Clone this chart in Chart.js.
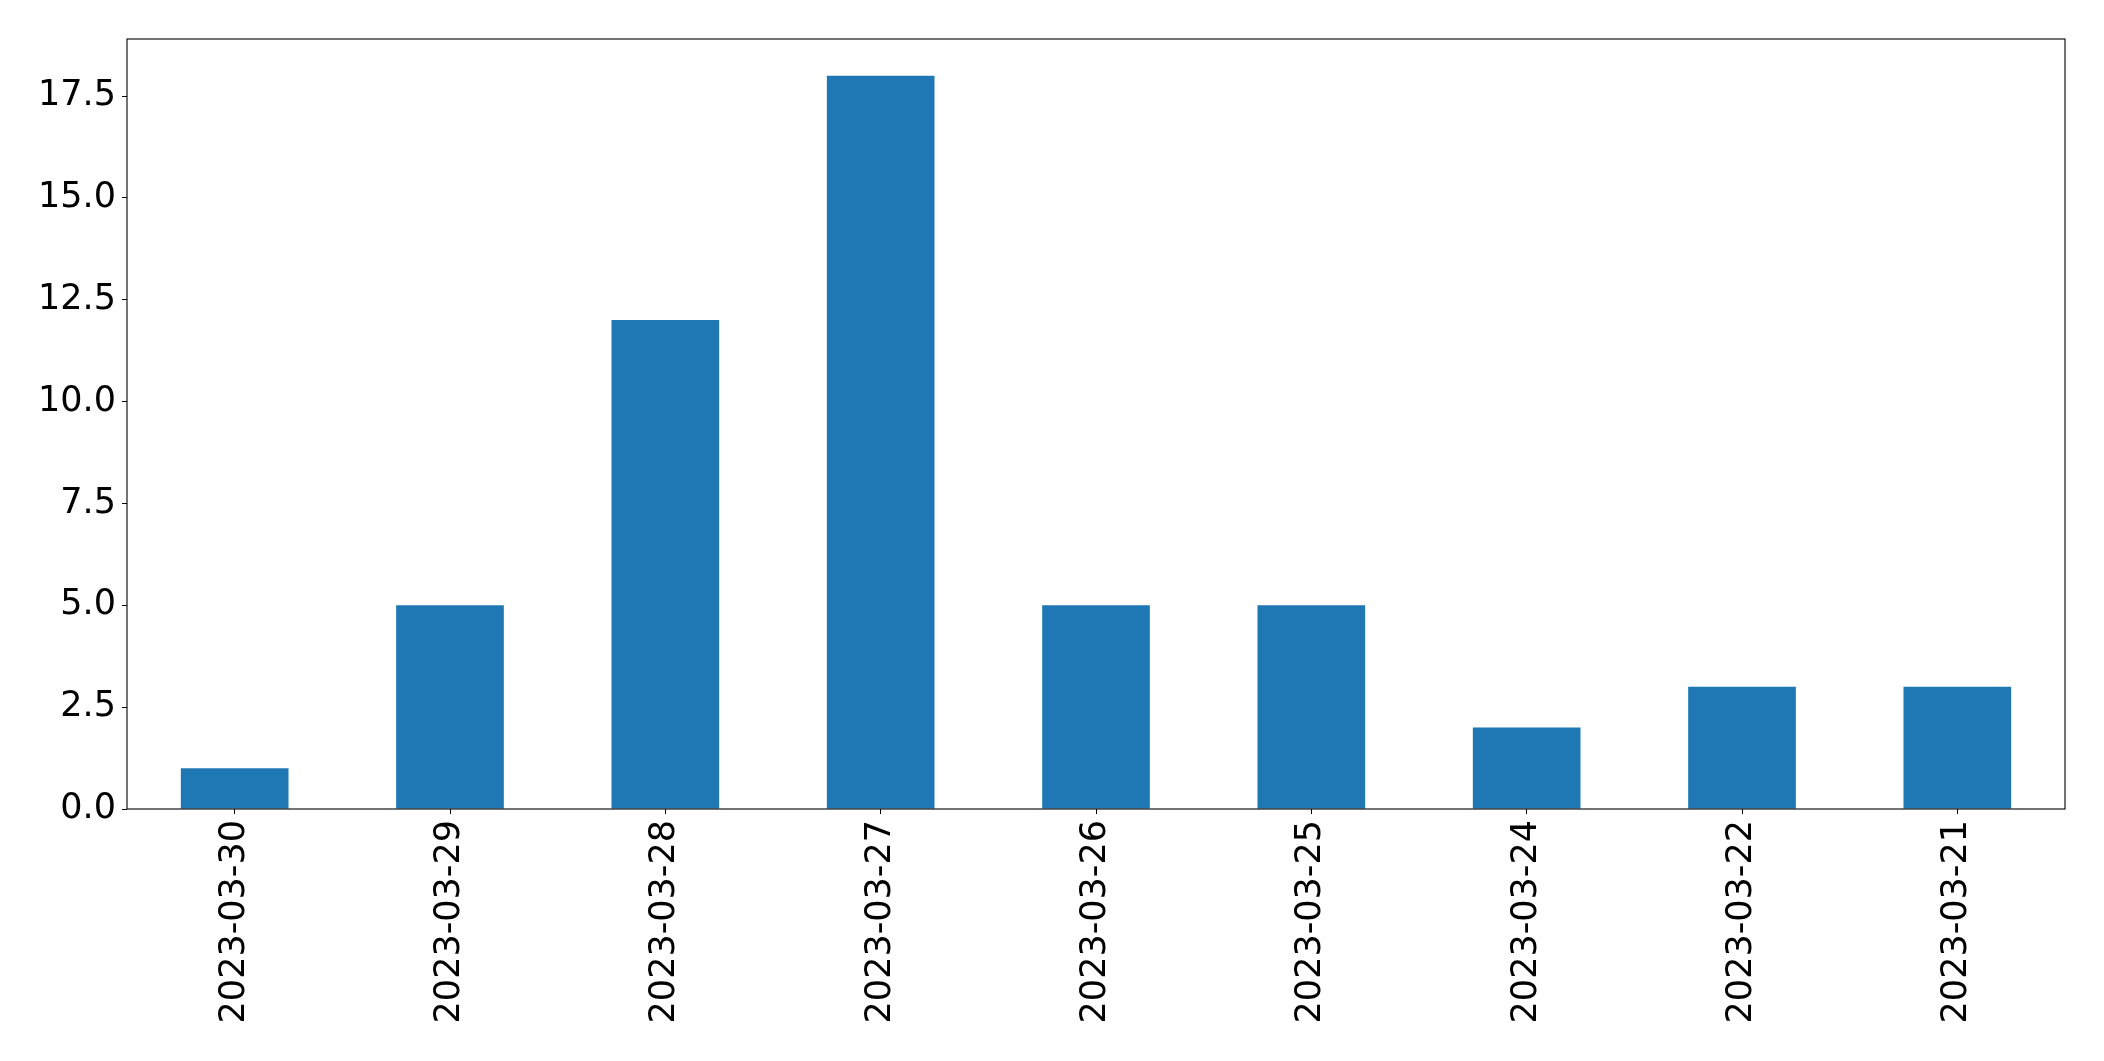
<!DOCTYPE html>
<html>
<head>
<meta charset="utf-8">
<script src="https://cdn.jsdelivr.net/npm/chart.js@4/dist/chart.umd.min.js"></script>
<style>
html,body{margin:0;padding:0;background:#fff;}
#wrap{width:2104px;height:1061px;position:relative;}
</style>
</head>
<body>
<div id="wrap"><canvas id="c" width="2104" height="1061"></canvas></div>
<script>
const categories = ["2023-03-30","2023-03-29","2023-03-28","2023-03-27","2023-03-26","2023-03-25","2023-03-24","2023-03-22","2023-03-21"];
const counts = [1, 5, 12, 18, 5, 5, 2, 3, 3];
const yTicks = [0, 2.5, 5, 7.5, 10, 12.5, 15, 17.5];

const FONT = {family: "'DejaVu Sans', sans-serif", size: 35};

const boxPlugin = {
  id: 'box',
  afterDraw(chart) {
    const a = chart.chartArea, ctx = chart.ctx;
    ctx.save();
    ctx.strokeStyle = '#000';
    ctx.lineWidth = 1.1;
    ctx.strokeRect(a.left, a.top, a.right - a.left, a.bottom - a.top);
    ctx.restore();
  }
};

new Chart(document.getElementById('c'), {
  type: 'bar',
  data: {
    labels: categories,
    datasets: [{data: counts, backgroundColor: '#1f77b4', borderWidth: 0,
      categoryPercentage: 1.0, barPercentage: 0.5}]
  },
  options: {
    responsive: false,
    animation: false,
    devicePixelRatio: 1,
    layout: {padding: {left: 0, right: 39, top: 39, bottom: 0}},
    plugins: {legend: {display: false}, tooltip: {enabled: false}},
    scales: {
      x: {
        offset: true,
        grid: {display: true, offset: false, drawOnChartArea: false, drawTicks: true, tickLength: 5, color: '#000', tickColor: '#000'},
        border: {display: false},
        ticks: {color: '#000', font: FONT, maxRotation: 90, minRotation: 90, autoSkip: false, padding: 6},
        afterFit(s) { s.height = 1061 - 809; }
      },
      y: {
        min: 0, max: 18.9,
        afterBuildTicks(s) { s.ticks = yTicks.map(v => ({value: v})); },
        grid: {display: true, drawOnChartArea: false, drawTicks: true, tickLength: 5, color: '#000', tickColor: '#000'},
        border: {display: false},
        ticks: {color: '#000', font: FONT, padding: 6, callback: v => Number(v).toFixed(1)},
        afterFit(s) { s.width = 127; }
      }
    }
  },
  plugins: [boxPlugin]
});
</script>
</body>
</html>
